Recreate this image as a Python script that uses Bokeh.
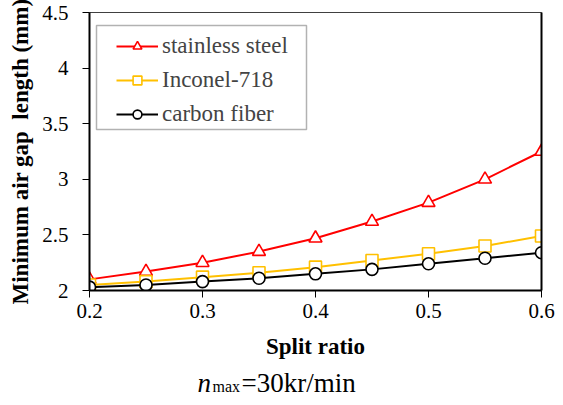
from bokeh.plotting import figure
from bokeh.models import Range1d, LinearAxis, Legend, LegendItem, Label, FixedTicker, BoxAnnotation
from bokeh.layouts import column
from bokeh.embed import file_html
from bokeh.resources import INLINE

split_ratio = [0.2, 0.25, 0.3, 0.35, 0.4, 0.45, 0.5, 0.55, 0.6]
stainless_steel = [2.10, 2.17, 2.25, 2.35, 2.47, 2.62, 2.79, 3.00, 3.25]
inconel_718 = [2.05, 2.08, 2.12, 2.16, 2.21, 2.27, 2.33, 2.40, 2.49]
carbon_fiber = [2.03, 2.05, 2.08, 2.11, 2.15, 2.19, 2.24, 2.29, 2.34]
x_ticks = [0.2, 0.3, 0.4, 0.5, 0.6]
y_ticks = [2, 2.5, 3, 3.5, 4, 4.5]

FONT = "'Liberation Serif', 'Times New Roman', serif"

p = figure(width=563, height=365, output_backend="svg", toolbar_location=None,
           x_range=Range1d(0.2, 0.6), y_range=Range1d(2, 4.5),
           min_border_left=89, min_border_right=22, min_border_top=12, min_border_bottom=75)
p.grid.visible = False
p.outline_line_color = "#404040"
p.outline_line_width = 1
p.background_fill_color = "white"
p.border_fill_color = "white"

for ax in (p.xaxis[0], p.yaxis[0]):
    ax.axis_line_width = 2
    ax.axis_line_color = "black"
    ax.major_tick_in = 0
    ax.major_tick_out = 7
    ax.major_tick_line_width = 1
    ax.minor_tick_line_color = None
    ax.major_label_text_font = FONT
    ax.major_label_text_font_size = "21px"
    ax.major_label_text_color = "black"
    ax.axis_label_text_font = FONT
    ax.axis_label_text_font_style = "bold"
    ax.axis_label_text_color = "black"
    ax.axis_label_text_font_size = "23px"

p.xaxis[0].ticker = FixedTicker(ticks=x_ticks)
p.yaxis[0].ticker = FixedTicker(ticks=y_ticks)
p.xaxis[0].axis_label = "Split ratio"
p.yaxis[0].axis_label = "Minimum air gap\u00a0 length (mm)"
p.xaxis[0].major_label_standoff = 6
p.xaxis[0].axis_label_standoff = 13
p.yaxis[0].major_label_standoff = 14
p.yaxis[0].axis_label_standoff = 6

right_axis = LinearAxis(ticker=FixedTicker(ticks=[]), axis_line_width=2, axis_line_color="black",
                        major_label_text_font_size="0px", major_tick_line_color=None,
                        minor_tick_line_color=None)
p.add_layout(right_axis, "right")
p.min_border_right = 22

series = [
    ("stainless steel", stainless_steel, "#FF0000", "triangle"),
    ("Inconel-718", inconel_718, "#FFC000", "square"),
    ("carbon fiber", carbon_fiber, "black", "circle"),
]
items = []
for name, vals, color, marker in series:
    ln = p.line(split_ratio, vals, line_color=color, line_width=2)
    sc = p.scatter(split_ratio, vals, marker=marker, size=13 if marker == "triangle" else 12,
                   line_color=color, line_width=1.6, fill_color="white")
    items.append(LegendItem(label=name, renderers=[ln, sc]))

legend_box = BoxAnnotation(left=7, right=217, bottom=161, top=265,
                           left_units="screen", right_units="screen",
                           bottom_units="screen", top_units="screen",
                           fill_color="white", fill_alpha=0,
                           line_color="black", line_width=1.5)
p.add_layout(legend_box)

legend = Legend(items=items, location=(27, 163), label_text_font=FONT, label_text_font_size="23px",
                label_height=26, glyph_height=22, glyph_width=42, label_standoff=4, spacing=8,
                padding=0, border_line_color=None, background_fill_alpha=0)
p.add_layout(legend, "center")

# caption below the chart (frame aligned with the main plot frame: pixels 89..541)
cap = figure(width=563, height=40, output_backend="svg", toolbar_location=None,
             x_range=Range1d(89, 541), y_range=Range1d(0, 40),
             min_border_left=89, min_border_right=22, min_border_top=0, min_border_bottom=0,
             x_axis_type=None, y_axis_type=None, title=None)
cap.grid.visible = False
cap.outline_line_color = None
cap.background_fill_color = "white"
cap.border_fill_color = "white"

cap_n = Label(x=197, y=23, text="n", text_font=FONT, text_font_style="italic",
              text_font_size="27px", text_color="black", text_baseline="alphabetic")
cap_max = Label(x=212, y=19, text="max", text_font=FONT, text_font_size="16px",
                text_color="black", text_baseline="alphabetic")
cap_rest = Label(x=241, y=23, text="=30kr/min", text_font=FONT, text_font_size="27px",
                 text_color="black", text_baseline="alphabetic")
for lb in (cap_n, cap_max, cap_rest):
    cap.add_layout(lb)

layout = column(p, cap, spacing=0)
open("out.html", "w").write(file_html(layout, INLINE))
